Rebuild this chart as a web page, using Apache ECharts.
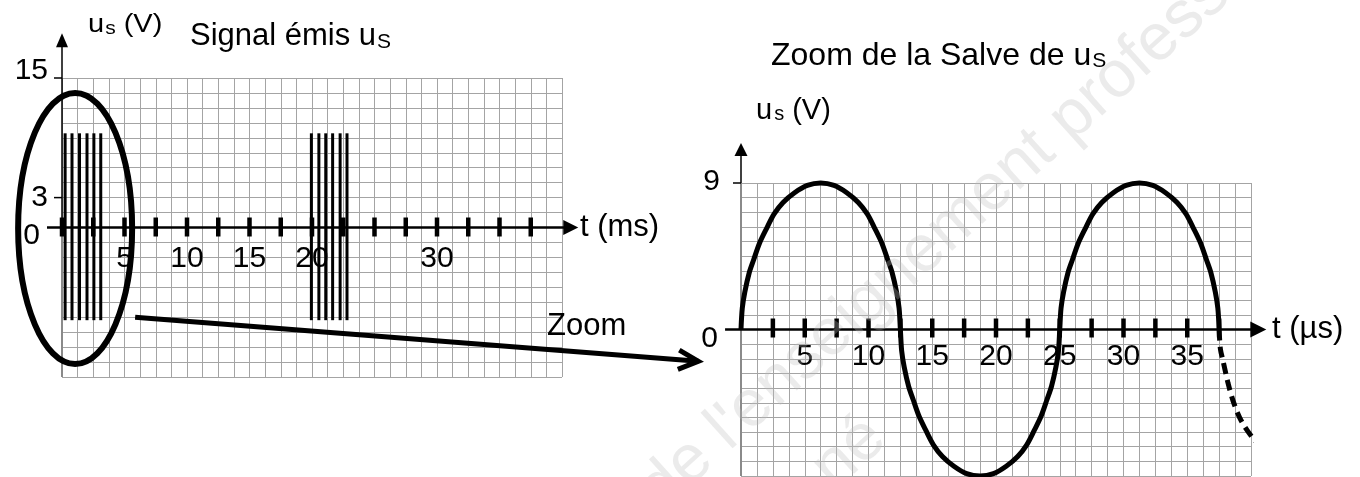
<!DOCTYPE html>
<html lang="fr">
<head>
<meta charset="utf-8">
<title>Signal émis u_S et zoom de la salve</title>
<script src="https://cdn.jsdelivr.net/npm/echarts@6.0.0/dist/echarts.min.js"></script>
<style>
  html, body { margin: 0; padding: 0; background: #ffffff; }
  #chart { width: 1360px; height: 477px; }
</style>
</head>
<body>
<div id="chart"></div>
<script>
// ---------------- Data ----------------
// Emitted signal u_S: instants (ms) of the pulse lines of the two bursts
const burstPulseTimesMs = [0.25, 0.8, 1.4, 2.0, 2.55, 3.1, 19.95, 20.55, 21.1, 21.65, 22.25, 22.8];
// Extreme voltages (V) reached by the pulse lines
const burstPulseMaxV = 9.45;
const burstPulseMinV = -9.3;

// Zoom on one burst: t (µs) and u_S (V), three half-periods
const zoomTimesUs = [
  0, 0.1, 0.3, 0.65, 1.0, 1.45, 2.0, 2.6, 3.3, 4.2, 5.2, 6.25, 7.3, 8.3, 9.2, 9.9, 10.5, 11.05, 11.5, 11.85, 12.2, 12.4, 12.5,
  12.6, 12.8, 13.15, 13.5, 13.95, 14.5, 15.1, 15.8, 16.7, 17.7, 18.75, 19.8, 20.8, 21.7, 22.4, 23.0, 23.55, 24.0, 24.35, 24.7, 24.9, 25,
  25.1, 25.3, 25.65, 26.0, 26.45, 27.0, 27.6, 28.3, 29.2, 30.2, 31.25, 32.3, 33.3, 34.2, 34.9, 35.5, 36.05, 36.5, 36.85, 37.2, 37.4, 37.5
];
const zoomValuesV = [
  0, 1.3, 2.3, 3.5, 4.3, 5.3, 6.2, 7.1, 7.8, 8.4, 8.85, 9, 8.85, 8.4, 7.8, 7.1, 6.2, 5.3, 4.3, 3.5, 2.3, 1.3, 0,
  -1.3, -2.3, -3.5, -4.3, -5.3, -6.2, -7.1, -7.8, -8.4, -8.85, -9, -8.85, -8.4, -7.8, -7.1, -6.2, -5.3, -4.3, -3.5, -2.3, -1.3, 0,
  1.3, 2.3, 3.5, 4.3, 5.3, 6.2, 7.1, 7.8, 8.4, 8.85, 9, 8.85, 8.4, 7.8, 7.1, 6.2, 5.3, 4.3, 3.5, 2.3, 1.3, 0
];
// Dashed continuation after the last drawn half-period
const tailTimesUs = [37.5, 37.6, 37.8, 38.2, 38.6, 39.1, 39.7, 40.4, 41.3, 42.5, 43.7];
const tailValuesV = [0, -1.2, -1.9, -3.3, -4.4, -5.4, -6.2, -6.9, -7.6, -8.3, -8.7];

// Graduations and labelled values
const leftTickMarksMs = [0, 2.5, 5, 7.5, 10, 12.5, 15, 17.5, 20, 22.5, 25, 27.5, 30, 32.5, 35, 37.5];
const leftTickLabelsMs = [5, 10, 15, 20, 30];
const leftValueLabelsV = [0, 3, 15];
const leftValueMarksV = [3, 15];
const rightTickMarksUs = [2.5, 5, 7.5, 10, 12.5, 15, 17.5, 20, 22.5, 25, 27.5, 30, 32.5, 35, 37.5];
const rightTickLabelsUs = [5, 10, 15, 20, 25, 30, 35];
const rightValueLabelsV = [0, 9];
const rightValueMarksV = [9];

// ---------------- Layout & styles ----------------
const FONT = '"Liberation Sans", Arial, Helvetica, sans-serif';
const INK = '#000000';
const PAPER_LINE = { color: '#a4a4a4', width: 1 };

// Axis frames in data units (axis line start, arrow tips), arrow sizes in px
const leftFrame = { xFrom: -1.2, xTip: 41.3, yFrom: 0, yTip: 19.5, yBottom: -15, xHead: [15, 7.5], yHead: [14, 6], xWidth: 2.5, yWidth: 1.5 };
const rightFrame = { xFrom: -1.25, xTip: 41.2, yFrom: 9, yTip: 11.45, yBottom: -9, xHead: [16, 8], yHead: [13, 6.5], xWidth: 2.5, yWidth: 1.5 };
const leftTickBar = { w: 4.5, up: 10, down: 9 };
const rightTickBar = { w: 4.5, up: 11, down: 8 };
const valueMarkLength = 8;
// Distance (px) between the time axis and the centre of its numbers
const leftLabelDrop = 31;
const rightLabelDrop = 27;
// Ellipse circling the first burst: centre and radii in (ms, V)
const highlightEllipse = [1.05, -0.1, 4.56, 13.6];
// "Zoom" arrow: start in the left chart (ms, V), tip in the right chart (µs, V)
const zoomArrow = { from: [5.85, -9.0], to: [-3.35, -1.95] };

function frameRenderer(f) {
  return function (params, api) {
    const a = api.coord([f.xFrom, 0]);
    const b = api.coord([f.xTip, 0]);
    const o = api.coord([0, f.yFrom]);
    const c = api.coord([0, f.yTip]);
    const bot = api.coord([0, f.yBottom]);
    const hl = f.xHead[0], hw = f.xHead[1], vl = f.yHead[0], vw = f.yHead[1];
    return {
      type: 'group',
      children: [
        { type: 'line', shape: { x1: bot[0], y1: bot[1], x2: o[0], y2: o[1] }, style: { stroke: '#8a8a8a', lineWidth: 2 } },
        { type: 'line', shape: { x1: a[0], y1: a[1], x2: b[0] - hl + 1, y2: b[1] }, style: { stroke: INK, lineWidth: f.xWidth } },
        { type: 'polygon', shape: { points: [[b[0], b[1]], [b[0] - hl, b[1] - hw], [b[0] - hl, b[1] + hw]] }, style: { fill: INK } },
        { type: 'line', shape: { x1: o[0], y1: o[1], x2: c[0], y2: c[1] + vl - 1 }, style: { stroke: INK, lineWidth: f.yWidth } },
        { type: 'polygon', shape: { points: [[c[0], c[1]], [c[0] - vw, c[1] + vl], [c[0] + vw, c[1] + vl]] }, style: { fill: INK } }
      ]
    };
  };
}

function tickRenderer(s) {
  return function (params, api) {
    const p = api.coord([api.value(0), 0]);
    return { type: 'rect', shape: { x: p[0] - s.w / 2, y: p[1] - s.up, width: s.w, height: s.up + s.down }, style: { fill: INK } };
  };
}

function tickLabelRenderer(drop) {
  return function (params, api) {
    const p = api.coord([api.value(0), 0]);
    return { type: 'text', x: p[0], y: p[1] + drop,
      style: { text: String(api.value(0)), fontSize: 30, fontFamily: FONT, fill: INK, align: 'center', verticalAlign: 'middle' } };
  };
}

function valueMarkRenderer(params, api) {
  const p = api.coord([0, api.value(1)]);
  return { type: 'line', shape: { x1: p[0] - valueMarkLength, y1: p[1], x2: p[0], y2: p[1] }, style: { stroke: INK, lineWidth: 1.5 } };
}

function pulseRenderer(params, api) {
  const p1 = api.coord([api.value(0), api.value(1)]);
  const p2 = api.coord([api.value(0), api.value(2)]);
  return { type: 'line', shape: { x1: p1[0], y1: p1[1], x2: p2[0], y2: p2[1] }, style: { stroke: INK, lineWidth: 3 } };
}

function ellipseRenderer(params, api) {
  const c = api.coord([api.value(0), api.value(1)]);
  const s = api.size([api.value(2), api.value(3)]);
  return { type: 'ellipse', shape: { cx: c[0], cy: c[1], rx: s[0], ry: s[1] }, style: { stroke: INK, lineWidth: 6, fill: 'none' } };
}

function numStyle(extra) {
  return Object.assign({ color: INK, fontSize: 30, fontFamily: FONT }, extra || {});
}

function timeAxis(gridIndex, name, nameGap) {
  return {
    gridIndex: gridIndex, type: 'value', min: 0, max: 40, interval: 1.25,
    axisLine: { show: true, onZero: true, lineStyle: { color: INK, width: 1, opacity: 0 } },
    axisTick: { show: false },
    axisLabel: { show: false },
    splitLine: { show: true, lineStyle: PAPER_LINE },
    name: name, nameLocation: 'end', nameGap: nameGap, nameMoveOverlap: false,
    nameTextStyle: { color: INK, fontSize: 31, fontFamily: FONT, align: 'left', verticalAlign: 'middle' }
  };
}

const option = {
  animation: false,
  backgroundColor: '#ffffff',
  grid: [
    { left: 62, top: 78, width: 500, height: 299, containLabel: false, outerBoundsMode: 'none' },
    { left: 741, top: 183, width: 510, height: 293, containLabel: false, outerBoundsMode: 'none' }
  ],
  xAxis: [
    timeAxis(0, 't (ms)', 18),
    timeAxis(1, 't (µs)', 21)
  ],
  yAxis: [
    {
      gridIndex: 0, type: 'value', min: -15, max: 15, interval: 1.5,
      axisLine: { show: false, onZero: false },
      axisTick: { show: false },
      splitLine: { show: true, lineStyle: PAPER_LINE },
      axisLabel: {
        customValues: leftValueLabelsV, margin: 14,
        formatter: function (v) { return v === 15 ? '{hi|15}' : (v === 0 ? '{lo|0}' : '{n|' + v + '}'); },
        rich: {
          hi: numStyle({ padding: [0, 0, 14, 0] }),
          lo: numStyle({ padding: [16, 8, 0, 0] }),
          n: numStyle()
        }
      }
    },
    {
      gridIndex: 1, type: 'value', min: -9, max: 9, interval: 0.9,
      axisLine: { show: false, onZero: false },
      axisTick: { show: false },
      splitLine: { show: true, lineStyle: PAPER_LINE },
      axisLabel: {
        customValues: rightValueLabelsV, margin: 21,
        formatter: function (v) { return v === 0 ? '{lo|0}' : '{n|' + v + '}'; },
        rich: {
          lo: numStyle({ padding: [18, 2, 0, 0] }),
          n: numStyle({ padding: [0, 0, 3, 0] })
        }
      }
    }
  ],
  series: [
    { type: 'custom', name: 'pulses', xAxisIndex: 0, yAxisIndex: 0, z: 4, silent: true,
      renderItem: pulseRenderer, encode: { x: 0, y: [1, 2] },
      data: burstPulseTimesMs.map(function (t) { return [t, burstPulseMaxV, burstPulseMinV]; }) },
    { type: 'custom', name: 'left axes', xAxisIndex: 0, yAxisIndex: 0, z: 3, silent: true,
      renderItem: frameRenderer(leftFrame), data: [[0, 0]] },
    { type: 'custom', name: 'left graduations', xAxisIndex: 0, yAxisIndex: 0, z: 3, silent: true,
      renderItem: tickRenderer(leftTickBar), data: leftTickMarksMs.map(function (t) { return [t, 0]; }) },
    { type: 'custom', name: 'left time labels', xAxisIndex: 0, yAxisIndex: 0, z: 7, silent: true,
      renderItem: tickLabelRenderer(leftLabelDrop), data: leftTickLabelsMs.map(function (t) { return [t, 0]; }) },
    { type: 'custom', name: 'left value marks', xAxisIndex: 0, yAxisIndex: 0, z: 3, silent: true,
      renderItem: valueMarkRenderer, data: leftValueMarksV.map(function (v) { return [0, v]; }) },
    { type: 'custom', name: 'ellipse', xAxisIndex: 0, yAxisIndex: 0, z: 6, silent: true,
      renderItem: ellipseRenderer, encode: { x: 0, y: 1 }, data: [highlightEllipse] },
    { type: 'custom', name: 'right axes', xAxisIndex: 1, yAxisIndex: 1, z: 3, silent: true,
      renderItem: frameRenderer(rightFrame), data: [[0, 0]] },
    { type: 'custom', name: 'right graduations', xAxisIndex: 1, yAxisIndex: 1, z: 3, silent: true,
      renderItem: tickRenderer(rightTickBar), data: rightTickMarksUs.map(function (t) { return [t, 0]; }) },
    { type: 'custom', name: 'right time labels', xAxisIndex: 1, yAxisIndex: 1, z: 4, silent: true,
      renderItem: tickLabelRenderer(rightLabelDrop), data: rightTickLabelsUs.map(function (t) { return [t, 0]; }) },
    { type: 'custom', name: 'right value marks', xAxisIndex: 1, yAxisIndex: 1, z: 3, silent: true,
      renderItem: valueMarkRenderer, data: rightValueMarksV.map(function (v) { return [0, v]; }) },
    { type: 'line', name: 'u_S', xAxisIndex: 1, yAxisIndex: 1, z: 5, silent: true,
      smooth: 0.3, symbol: 'none', showSymbol: false, clip: false,
      lineStyle: { color: INK, width: 5 },
      data: zoomTimesUs.map(function (t, i) { return [t, zoomValuesV[i]]; }) },
    { type: 'line', name: 'u_S suite', xAxisIndex: 1, yAxisIndex: 1, z: 5, silent: true,
      smooth: 0.3, symbol: 'none', showSymbol: false, clip: false,
      lineStyle: { color: INK, width: 5, type: [11, 6] },
      data: tailTimesUs.map(function (t, i) { return [t, tailValuesV[i]]; }) }
  ]
};

const chart = echarts.init(document.getElementById('chart'), null, { renderer: 'canvas' });
chart.setOption(option);

// ---------------- Texts and annotations ----------------
const measureCtx = document.createElement('canvas').getContext('2d');
function textWidth(str, size) {
  measureCtx.font = size + 'px ' + FONT;
  return measureCtx.measureText(str).width;
}
// Lays out pieces of text one after another (main text + subscripts)
function inlineText(x, pieces) {
  let cx = x;
  return pieces.map(function (p) {
    const el = {
      type: 'text', x: cx + (p.dx || 0), y: p.y, scaleY: p.scaleY || 1, z: 50, silent: true,
      style: { text: p.text, fontSize: p.size, fontFamily: FONT, fill: INK, align: 'left', verticalAlign: 'middle' }
    };
    cx += textWidth(p.text, p.size) + (p.dx || 0);
    return el;
  });
}

const p0 = chart.convertToPixel({ gridIndex: 0 }, zoomArrow.from);
const p1 = chart.convertToPixel({ gridIndex: 1 }, zoomArrow.to);
const ang = Math.atan2(p1[1] - p0[1], p1[0] - p0[0]);
const barbLen = 22, barbAng = 26 * Math.PI / 180;
const barbA = [p1[0] - barbLen * Math.cos(ang + barbAng), p1[1] - barbLen * Math.sin(ang + barbAng)];
const barbB = [p1[0] - barbLen * Math.cos(ang - barbAng), p1[1] - barbLen * Math.sin(ang - barbAng)];

const wmRot = 42 * Math.PI / 180;
const wmStyle = { fontSize: 66, fontFamily: FONT, fill: 'rgba(190,190,190,0.3)', align: 'left', verticalAlign: 'middle' };
const graphics = [].concat(
  inlineText(88, [
    { text: 'u', size: 29, y: 24.5, scaleY: 0.9 },
    { text: 's', size: 21, y: 28.5, scaleY: 0.9, dx: 1 },
    { text: ' (V)', size: 29, y: 24.5, scaleY: 0.9 }
  ]),
  inlineText(190, [
    { text: 'Signal émis u', size: 31, y: 36.6 },
    { text: 'S', size: 21, y: 42.7, dx: 1 }
  ]),
  inlineText(771, [
    { text: 'Zoom de la Salve de u', size: 32, y: 55.8 },
    { text: 'S', size: 21, y: 60.9, dx: 1 }
  ]),
  inlineText(756, [
    { text: 'u', size: 29, y: 110.5 },
    { text: 's', size: 20, y: 114.3, dx: 2 },
    { text: ' (V)', size: 29, y: 110.5 }
  ]),
  [
    { type: 'text', x: 547, y: 326.5, z: 50, silent: true,
      style: { text: 'Zoom', fontSize: 31, fontFamily: FONT, fill: INK, align: 'left', verticalAlign: 'middle' } },
    { type: 'polyline', z: 40, silent: true, shape: { points: [p0, p1] },
      style: { stroke: INK, lineWidth: 5, fill: 'none' } },
    { type: 'polyline', z: 40, silent: true, shape: { points: [barbA, p1, barbB] },
      style: { stroke: INK, lineWidth: 5, fill: 'none', lineJoin: 'miter' } },
    { type: 'text', x: 649, y: 499, rotation: wmRot, z: 60, silent: true,
      style: Object.assign({ text: "de l'enseignement professionnel" }, wmStyle) },
    { type: 'text', x: 822, y: 478, rotation: wmRot, z: 60, silent: true,
      style: Object.assign({ text: 'né' }, wmStyle) }
  ]
);
chart.setOption({ graphic: { elements: graphics } });
</script>
</body>
</html>
